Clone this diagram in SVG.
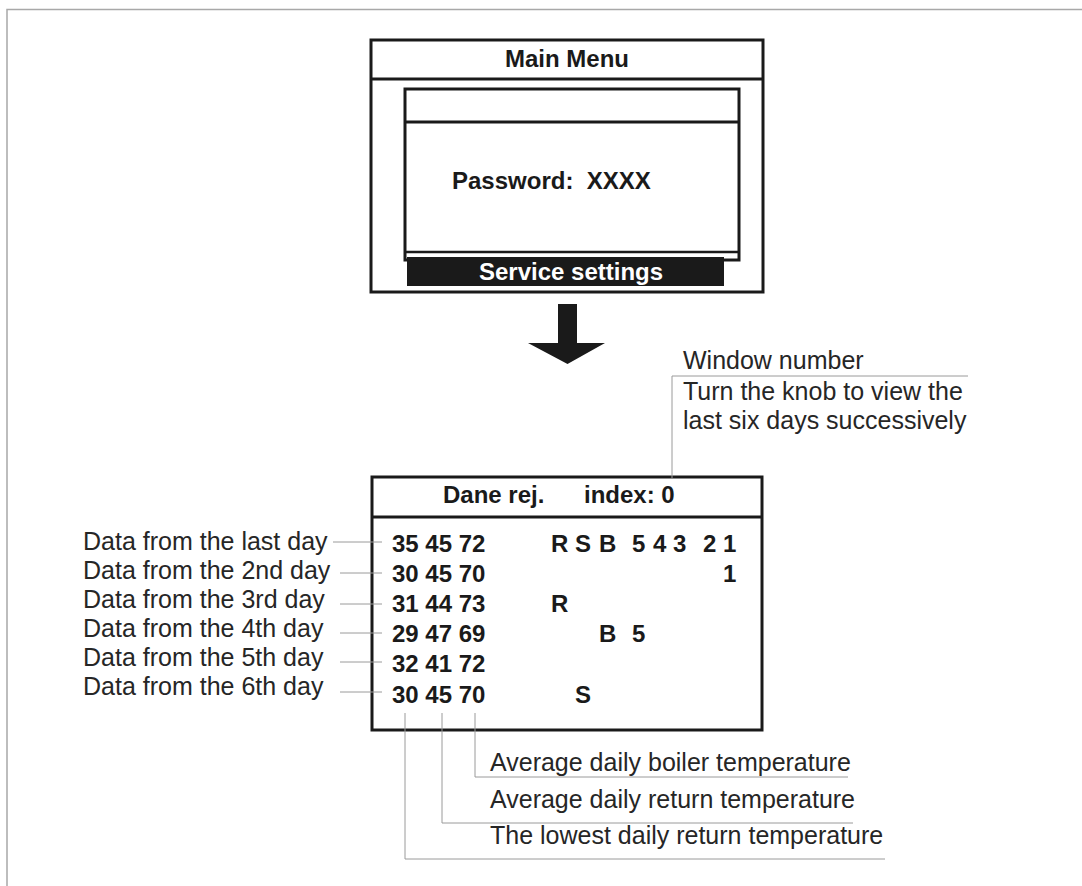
<svg xmlns="http://www.w3.org/2000/svg" width="1082" height="886" viewBox="0 0 1082 886">
<style>
.frame{fill:none;stroke:#a8a8a8;stroke-width:1.5}
.box{fill:#fff;stroke:#1a1a1a;stroke-width:3}
.ln{stroke:#1a1a1a;stroke-width:3}
.lead{fill:none;stroke:#9a9a9a;stroke-width:1}
.b{font-family:"Liberation Sans",Arial,sans-serif;font-weight:bold;font-size:24px;fill:#1a1a1a}
.r{font-family:"Liberation Sans",Arial,sans-serif;font-size:25px;fill:#262626}
</style>
<rect width="1082" height="886" fill="#fff"/>
<path class="frame" d="M7,886 V9.5 H1082"/>

<g id="main-menu">
<rect class="box" x="371" y="40" width="392" height="252"/>
<line class="ln" x1="371" y1="79" x2="763" y2="79"/>
<text class="b" x="567" y="67" text-anchor="middle">Main Menu</text>
<rect class="box" x="405" y="89" width="334" height="171"/>
<line class="ln" x1="405" y1="122" x2="739" y2="122"/>
<line x1="405" y1="252" x2="739" y2="252" stroke="#1a1a1a" stroke-width="2.5"/>
<text class="b" x="452" y="189" xml:space="preserve">Password:  XXXX</text>
<rect x="407" y="257" width="317" height="29" fill="#1a1a1a"/>
<text class="b" x="571" y="280" text-anchor="middle" style="fill:#fff">Service settings</text>
</g>

<g id="arrow">
<polygon points="558,304 577,304 577,343 605,343 567.5,364 528,343 558,343" fill="#1a1a1a"/>
</g>

<g id="window-note">
<text class="r" x="683" y="369">Window number</text>
<text class="r" x="683" y="400">Turn the knob to view the</text>
<text class="r" x="683" y="429">last six days successively</text>
</g>

<g id="data-window">
<rect class="box" x="372" y="477" width="390" height="253"/>
<line class="ln" x1="372" y1="517" x2="762" y2="517"/>
<text class="b" x="443" y="503">Dane rej.</text>
<text class="b" x="584" y="503">index: 0</text>
<g class="b">
<text x="392" y="552">35 45 72</text>
<text x="392" y="582">30 45 70</text>
<text x="392" y="612">31 44 73</text>
<text x="392" y="642">29 47 69</text>
<text x="392" y="672">32 41 72</text>
<text x="392" y="703">30 45 70</text>
<text x="551" y="552">R</text><text x="575" y="552">S</text><text x="599" y="552">B</text>
<text x="632" y="552">5</text><text x="653" y="552">4</text><text x="673" y="552">3</text>
<text x="703" y="552">2</text><text x="723" y="552">1</text>
<text x="723" y="582">1</text>
<text x="551" y="612">R</text>
<text x="599" y="642">B</text><text x="632" y="642">5</text>
<text x="575" y="703">S</text>
</g>
</g>

<g id="day-labels">
<text class="r" x="83" y="550">Data from the last day</text>
<text class="r" x="83" y="579">Data from the 2nd day</text>
<text class="r" x="83" y="608">Data from the 3rd day</text>
<text class="r" x="83" y="637">Data from the 4th day</text>
<text class="r" x="83" y="666">Data from the 5th day</text>
<text class="r" x="83" y="695">Data from the 6th day</text>
</g>

<g id="bottom-labels">
<text class="r" x="490" y="771">Average daily boiler temperature</text>
<text class="r" x="490" y="808">Average daily return temperature</text>
<text class="r" x="490" y="844">The lowest daily return temperature</text>
</g>

<g id="connectors">
<path class="lead" d="M672,478 V376 H968"/>
<path class="lead" d="M333,542 H382"/>
<path class="lead" d="M340,573 H382"/>
<path class="lead" d="M340,604 H382"/>
<path class="lead" d="M340,633 H382"/>
<path class="lead" d="M340,662 H382"/>
<path class="lead" d="M340,692 H382"/>
<path class="lead" d="M475,713 V777 H848"/>
<path class="lead" d="M442,713 V823 H853"/>
<path class="lead" d="M405,713 V859 H885"/>
</g>
</svg>
